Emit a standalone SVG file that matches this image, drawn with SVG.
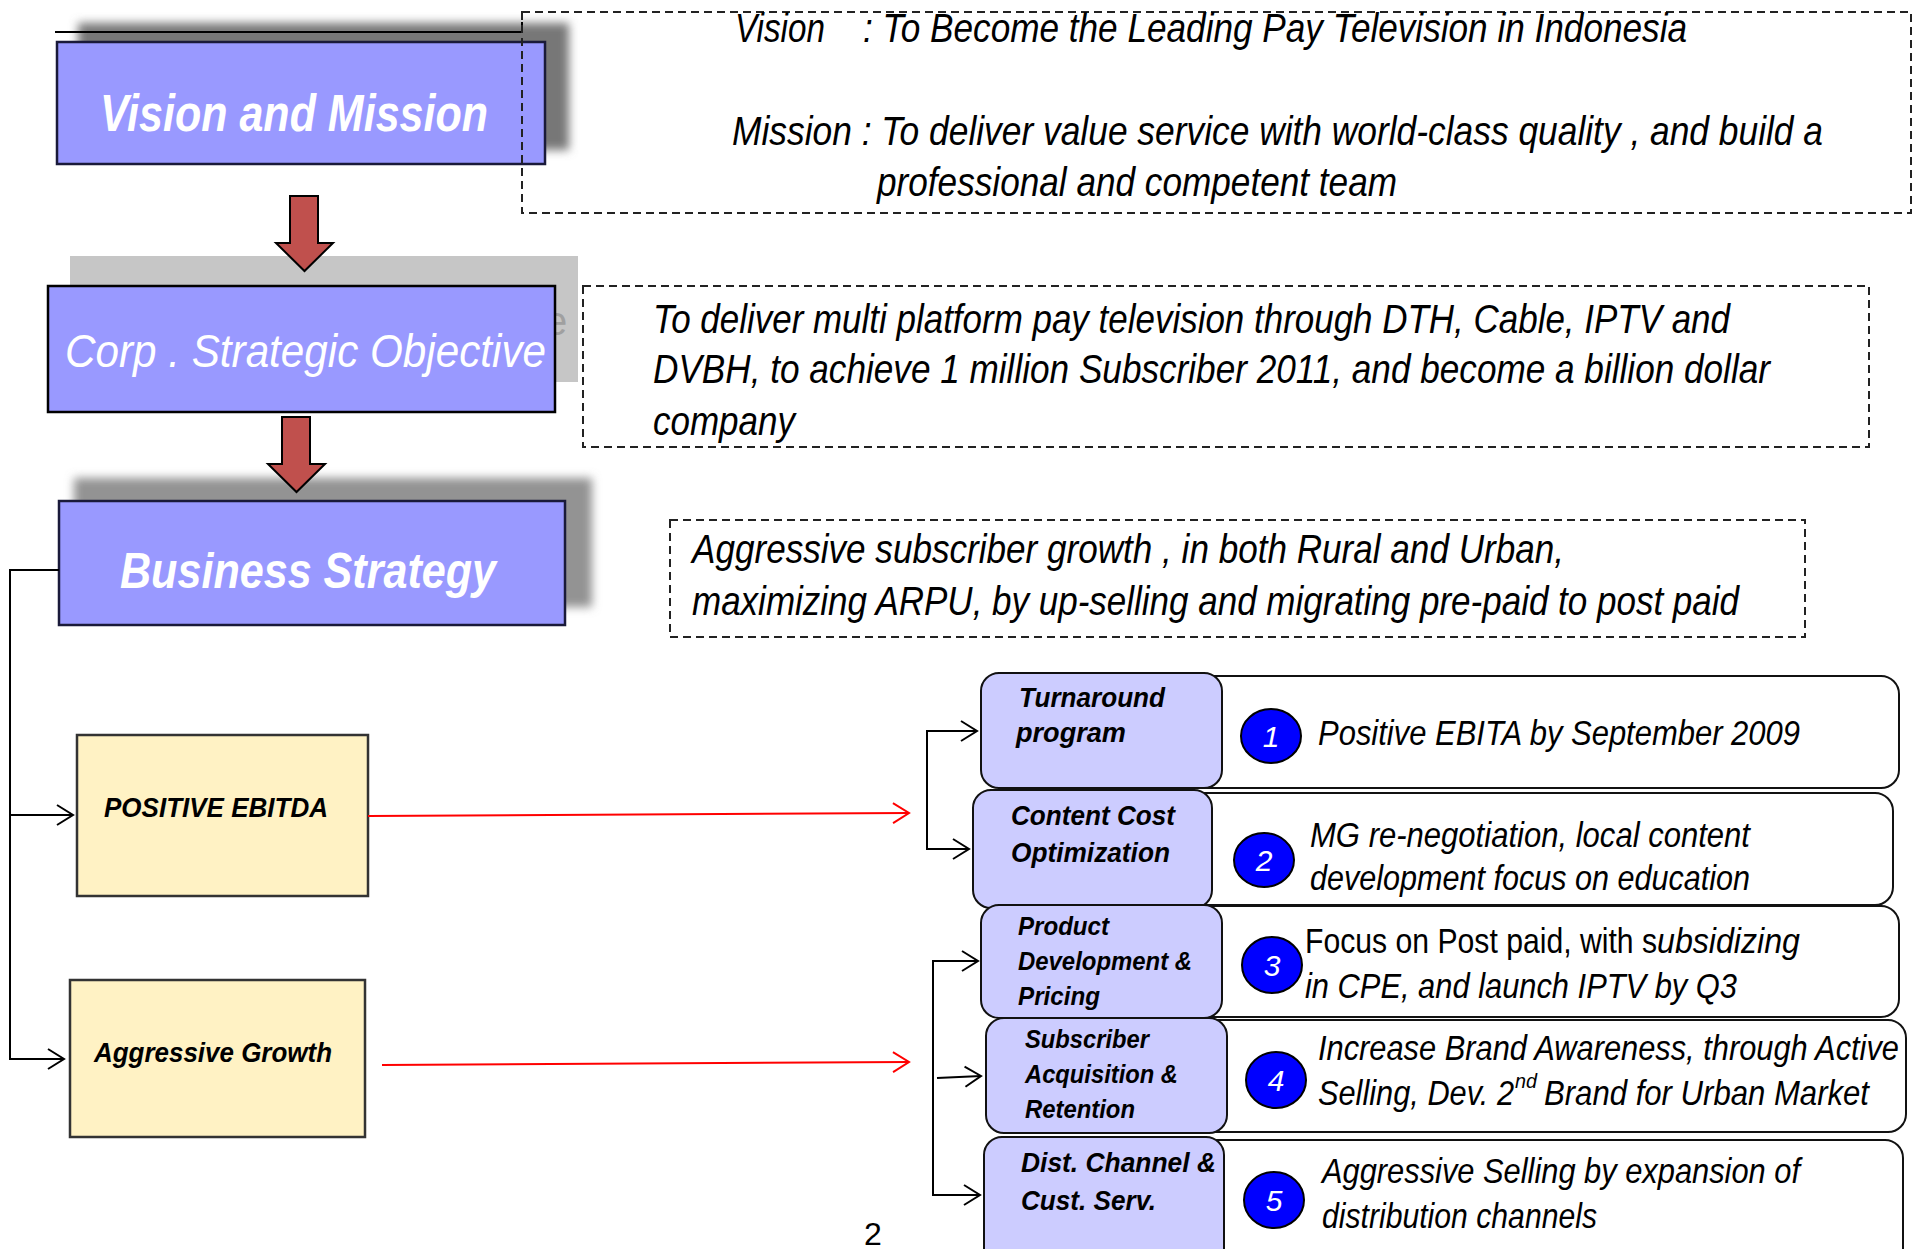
<svg xmlns="http://www.w3.org/2000/svg" width="1921" height="1249" viewBox="0 0 1921 1249">
<style>
.t{font-family:"Liberation Sans Narrow","Liberation Sans",Arial,sans-serif;font-style:italic;fill:#000}
.up{font-family:"Liberation Sans Narrow","Liberation Sans",Arial,sans-serif;fill:#000}
.big{font-size:40px}
.desc{font-size:35px}
.lab{font-size:27px;font-weight:bold}
.wh{fill:#fff}
.dash{fill:none;stroke:#222;stroke-width:2;stroke-dasharray:8 5}
.blue{fill:#9999FF;stroke:#1a1a3a;stroke-width:2.5}
.yel{fill:#FFF2C4;stroke:#333;stroke-width:2.5}
.lav{fill:#CCCCFF;stroke:#111;stroke-width:2}
.wbox{fill:#fff;stroke:#111;stroke-width:2}
.num{fill:#0000FF;stroke:#000;stroke-width:2}
.conn{fill:none;stroke:#000;stroke-width:2}
.red{fill:none;stroke:#FF0000;stroke-width:2}
.rarrow{fill:#C0504D;stroke:#000;stroke-width:2}
</style>
<defs>
<filter id="blur" x="-10%" y="-20%" width="120%" height="140%"><feGaussianBlur stdDeviation="5"/></filter>
<marker id="ah" markerWidth="22" markerHeight="24" refX="19" refY="12" orient="auto" markerUnits="userSpaceOnUse"><path d="M3,2 L19,12 L3,22" fill="none" stroke="#000" stroke-width="2"/></marker>
<marker id="ahr" markerWidth="22" markerHeight="24" refX="19" refY="12" orient="auto" markerUnits="userSpaceOnUse"><path d="M3,2 L19,12 L3,22" fill="none" stroke="#FF0000" stroke-width="2"/></marker>
</defs>
<rect width="1921" height="1249" fill="#fff"/>

<!-- Vision and Mission -->
<g id="vision-mission">
<rect x="78" y="23" width="491" height="127" fill="#777" filter="url(#blur)"/>
<polyline points="55,32 522,32 522,22" class="conn"/>
<rect x="57" y="42" width="488" height="122" class="blue"/>
<text x="100" y="131" class="t lab wh" style="font-size:52px" textLength="388" lengthAdjust="spacingAndGlyphs">Vision and Mission</text>
</g>

<g id="vision-text">
<rect x="522" y="12" width="1389" height="201" class="dash"/>
<text x="735" y="42" class="t big" textLength="90" lengthAdjust="spacingAndGlyphs">Vision</text>
<text x="863" y="42" class="t big" textLength="824" lengthAdjust="spacingAndGlyphs">: To Become the Leading Pay Television in Indonesia</text>
<text x="732" y="145" class="t big" textLength="1091" lengthAdjust="spacingAndGlyphs">Mission : To  deliver value service with world-class quality , and build a</text>
<text x="877" y="196" class="t big" textLength="520" lengthAdjust="spacingAndGlyphs">professional and competent team</text>
</g>

<!-- Corp Strategic Objective -->
<g id="corp-objective">
<rect x="70" y="256" width="508" height="126" fill="#C6C6C6"/>
<text x="545" y="335" class="up" style="font-size:40px;fill:#A0A0A0">e</text>
<rect x="48" y="286" width="507" height="126" class="blue" style="stroke:#000"/>
<text x="65" y="367" class="t wh" style="font-size:46px" textLength="481" lengthAdjust="spacingAndGlyphs">Corp . Strategic Objective</text>
</g>

<g id="corp-text">
<rect x="583" y="286" width="1286" height="161" class="dash"/>
<text x="653" y="333" class="t big" textLength="1077" lengthAdjust="spacingAndGlyphs">To deliver multi platform pay television through DTH, Cable, IPTV and</text>
<text x="653" y="383" class="t big" textLength="1117" lengthAdjust="spacingAndGlyphs">DVBH, to  achieve 1 million Subscriber 2011, and become a billion dollar</text>
<text x="653" y="435" class="t big" textLength="142" lengthAdjust="spacingAndGlyphs">company</text>
</g>

<!-- Business Strategy -->
<g id="business-strategy">
<rect x="74" y="478" width="518" height="129" fill="#939393" filter="url(#blur)"/>
<rect x="59" y="501" width="506" height="124" class="blue"/>
<text x="120" y="588" class="t lab wh" style="font-size:50px" textLength="376" lengthAdjust="spacingAndGlyphs">Business Strategy</text>
</g>

<g id="business-text">
<rect x="670" y="520" width="1135" height="117" class="dash"/>
<text x="692" y="563" class="t big" textLength="872" lengthAdjust="spacingAndGlyphs">Aggressive subscriber growth ,  in both Rural and Urban,</text>
<text x="692" y="615" class="t big" textLength="1047" lengthAdjust="spacingAndGlyphs">maximizing ARPU, by up-selling and migrating pre-paid to post paid</text>
</g>

<!-- Red block arrows -->
<g id="down-arrow-1">
<polygon points="290,196 318,196 318,243 333,243 304.5,271 276,243 290,243" class="rarrow"/>
</g>
<g id="down-arrow-2">
<polygon points="282,417 310,417 310,464 325,464 296.5,492 268,464 282,464" class="rarrow"/>
</g>

<!-- Goals -->
<g id="positive-ebitda">
<rect x="77" y="735" width="291" height="161" class="yel"/>
<text x="104" y="817" class="t lab" style="font-size:28px" textLength="224" lengthAdjust="spacingAndGlyphs">POSITIVE EBITDA</text>
</g>
<g id="aggressive-growth">
<rect x="70" y="980" width="295" height="157" class="yel"/>
<text x="94" y="1062" class="t lab" style="font-size:28px" textLength="238" lengthAdjust="spacingAndGlyphs">Aggressive Growth</text>
</g>

<!-- Programs -->
<g id="item-1">
<rect x="1190" y="676" width="709" height="112" rx="18" class="wbox"/>
<rect x="981" y="673" width="241" height="115" rx="18" class="lav"/>
<text x="1019" y="707" class="t lab" textLength="146" lengthAdjust="spacingAndGlyphs">Turnaround</text>
<text x="1016" y="742" class="t lab" textLength="110" lengthAdjust="spacingAndGlyphs">program</text>
<ellipse cx="1271" cy="736" rx="30" ry="27" class="num"/>
<text x="1271" y="747" class="t wh" style="font-size:30px" text-anchor="middle">1</text>
<text x="1318" y="745" class="t desc" textLength="482" lengthAdjust="spacingAndGlyphs">Positive EBITA by September 2009</text>
</g>

<g id="item-2">
<rect x="1185" y="793" width="708" height="112" rx="18" class="wbox"/>
<rect x="973" y="790" width="239" height="118" rx="18" class="lav"/>
<text x="1011" y="825" class="t lab" textLength="164" lengthAdjust="spacingAndGlyphs">Content Cost</text>
<text x="1011" y="862" class="t lab" textLength="159" lengthAdjust="spacingAndGlyphs">Optimization</text>
<ellipse cx="1264" cy="860" rx="30" ry="27" class="num"/>
<text x="1264" y="871" class="t wh" style="font-size:30px" text-anchor="middle">2</text>
<text x="1310" y="847" class="t desc" textLength="440" lengthAdjust="spacingAndGlyphs">MG re-negotiation, local content</text>
<text x="1310" y="890" class="t desc" textLength="440" lengthAdjust="spacingAndGlyphs">development focus on education</text>
</g>

<g id="item-3">
<rect x="1190" y="906" width="709" height="111" rx="18" class="wbox"/>
<rect x="981" y="905" width="241" height="113" rx="18" class="lav"/>
<text x="1018" y="935" class="t lab" style="font-size:25px" textLength="91" lengthAdjust="spacingAndGlyphs">Product</text>
<text x="1018" y="970" class="t lab" style="font-size:25px" textLength="174" lengthAdjust="spacingAndGlyphs">Development &amp;</text>
<text x="1018" y="1005" class="t lab" style="font-size:25px" textLength="82" lengthAdjust="spacingAndGlyphs">Pricing</text>
<ellipse cx="1272" cy="965" rx="30" ry="28" class="num"/>
<text x="1272" y="976" class="t wh" style="font-size:30px" text-anchor="middle">3</text>
<text x="1305" y="953" class="up desc" textLength="352" lengthAdjust="spacingAndGlyphs">Focus on Post paid, with s</text>
<text x="1657" y="953" class="t desc" textLength="143" lengthAdjust="spacingAndGlyphs">ubsidizing</text>
<text x="1305" y="998" class="t desc" textLength="432" lengthAdjust="spacingAndGlyphs">in CPE, and launch IPTV by Q3</text>
</g>

<g id="item-4">
<rect x="1195" y="1020" width="711" height="112" rx="18" class="wbox"/>
<rect x="986" y="1018" width="241" height="115" rx="18" class="lav"/>
<text x="1025" y="1048" class="t lab" style="font-size:25px" textLength="124" lengthAdjust="spacingAndGlyphs">Subscriber</text>
<text x="1025" y="1083" class="t lab" style="font-size:25px" textLength="153" lengthAdjust="spacingAndGlyphs">Acquisition &amp;</text>
<text x="1025" y="1118" class="t lab" style="font-size:25px" textLength="110" lengthAdjust="spacingAndGlyphs">Retention</text>
<ellipse cx="1276" cy="1080" rx="30" ry="28" class="num"/>
<text x="1276" y="1091" class="t wh" style="font-size:30px" text-anchor="middle">4</text>
<text x="1318" y="1060" class="t desc" textLength="581" lengthAdjust="spacingAndGlyphs">Increase Brand Awareness, through Active</text>
<text x="1318" y="1105" class="t desc" textLength="196" lengthAdjust="spacingAndGlyphs">Selling, Dev. 2</text>
<text x="1515" y="1088" class="t" style="font-size:20px" textLength="22" lengthAdjust="spacingAndGlyphs">nd</text>
<text x="1544" y="1105" class="t desc" textLength="325" lengthAdjust="spacingAndGlyphs">Brand for Urban Market</text>
</g>

<g id="item-5">
<rect x="1190" y="1140" width="713" height="140" rx="18" class="wbox"/>
<rect x="984" y="1137" width="240" height="140" rx="18" class="lav"/>
<text x="1021" y="1172" class="t lab" textLength="195" lengthAdjust="spacingAndGlyphs">Dist. Channel &amp;</text>
<text x="1021" y="1210" class="t lab" textLength="135" lengthAdjust="spacingAndGlyphs">Cust. Serv.</text>
<ellipse cx="1274" cy="1200" rx="30" ry="28" class="num"/>
<text x="1274" y="1211" class="t wh" style="font-size:30px" text-anchor="middle">5</text>
<text x="1322" y="1183" class="t desc" textLength="478" lengthAdjust="spacingAndGlyphs">Aggressive Selling by expansion of</text>
<text x="1322" y="1228" class="t desc" textLength="275" lengthAdjust="spacingAndGlyphs">distribution channels</text>
</g>

<!-- Connectors -->
<g id="connectors">
<path d="M59,570 H10 V1059 H64" class="conn" marker-end="url(#ah)"/>
<path d="M10,815 H73" class="conn" marker-end="url(#ah)"/>
<path d="M368,816 L909,813" class="red" marker-end="url(#ahr)"/>
<path d="M382,1065 L909,1062" class="red" marker-end="url(#ahr)"/>
<path d="M927,790 V731 H977" class="conn" marker-end="url(#ah)"/>
<path d="M927,790 V849 H969" class="conn" marker-end="url(#ah)"/>
<path d="M933,1078 V961 H978" class="conn" marker-end="url(#ah)"/>
<path d="M933,1078 V1195 H980" class="conn" marker-end="url(#ah)"/>
<path d="M937,1078 L981,1076" class="conn" marker-end="url(#ah)"/>
</g>

<text x="873" y="1245" class="up" style="font-size:32px" text-anchor="middle">2</text>
</svg>
